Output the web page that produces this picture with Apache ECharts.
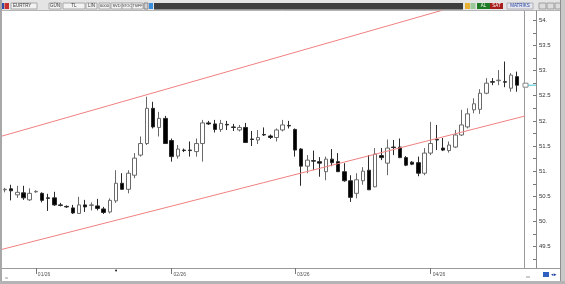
<!DOCTYPE html>
<html>
<head>
<meta charset="utf-8">
<script src="https://cdn.jsdelivr.net/npm/echarts@6/dist/echarts.min.js"></script>
<style>
html,body{margin:0;padding:0;background:#fff;}
#c{width:565px;height:284px;}
</style>
</head>
<body>
<div id="c"></div>
<script>
// ---- data ----
const dates = [
 '2025-12-25','2025-12-26','2025-12-29','2025-12-30','2025-12-31',
 '2026-01-01','2026-01-02','2026-01-05','2026-01-06','2026-01-07','2026-01-08','2026-01-09',
 '2026-01-12','2026-01-13','2026-01-14','2026-01-15','2026-01-16',
 '2026-01-19','2026-01-20','2026-01-21','2026-01-22','2026-01-23',
 '2026-01-26','2026-01-27','2026-01-28','2026-01-29','2026-01-30',
 '2026-02-02','2026-02-03','2026-02-04','2026-02-05','2026-02-06',
 '2026-02-09','2026-02-10','2026-02-11','2026-02-12','2026-02-13',
 '2026-02-16','2026-02-17','2026-02-18','2026-02-19','2026-02-20',
 '2026-02-23','2026-02-24','2026-02-25','2026-02-26','2026-02-27',
 '2026-03-02','2026-03-03','2026-03-04','2026-03-05','2026-03-06',
 '2026-03-09','2026-03-10','2026-03-11','2026-03-12','2026-03-13',
 '2026-03-16','2026-03-17','2026-03-18','2026-03-19','2026-03-20',
 '2026-03-23','2026-03-24','2026-03-25','2026-03-26','2026-03-27',
 '2026-03-30','2026-03-31',
 '2026-04-01','2026-04-02','2026-04-03',
 '2026-04-06','2026-04-07','2026-04-08','2026-04-09','2026-04-10',
 '2026-04-13','2026-04-14','2026-04-15','2026-04-16','2026-04-17',
 '2026-04-20','2026-04-21'
];
const opens = [
 50.63,50.65,50.53,50.57,50.43,50.59,50.56,50.47,50.47,50.33,50.30,50.27,50.16,50.33,50.32,50.31,50.25,50.19,50.41,50.76,
 50.64,50.92,51.32,51.55,52.25,51.87,52.05,51.61,51.30,51.42,51.42,51.39,51.55,51.96,51.94,51.83,51.93,51.88,51.82,51.87,
 51.64,51.62,51.73,51.70,51.67,51.82,51.91,51.83,51.44,51.10,51.21,51.19,50.99,51.24,51.19,50.99,50.81,50.56,50.81,51.02,
 50.69,51.31,51.16,51.48,51.48,51.27,51.18,51.17,50.96,51.36,51.63,51.46,51.41,51.48,51.72,51.88,52.22,52.23,52.55,52.78,
 52.80,52.78,52.65,52.88
];
const closes = [
 50.64,50.61,50.58,50.47,50.56,50.60,50.42,50.46,50.33,50.32,50.29,50.17,50.33,50.29,50.33,50.26,50.18,50.42,50.76,50.64,
 50.96,51.26,51.55,52.25,51.88,52.05,51.55,51.29,51.44,51.41,51.41,51.55,51.96,51.94,51.83,51.95,51.92,51.87,51.87,51.57,
 51.63,51.67,51.72,51.67,51.82,51.92,51.90,51.42,51.10,51.22,51.20,51.16,51.24,51.17,50.99,50.81,50.48,50.83,51.00,50.63,
 51.34,51.27,51.46,51.47,51.27,51.12,51.14,50.96,51.36,51.55,51.62,51.42,51.52,51.72,51.92,52.14,52.34,52.55,52.75,52.77,
 52.81,52.77,52.91,52.71
];
const lows = [
 50.58,50.42,50.47,50.43,50.41,50.57,50.38,50.21,50.31,50.30,50.27,50.15,50.16,50.19,50.22,50.22,50.15,50.16,50.37,50.63,
 50.56,50.86,51.29,51.52,51.85,51.69,51.55,51.19,51.25,51.38,51.29,51.29,51.19,51.92,51.77,51.78,51.82,51.80,51.79,51.57,
 51.50,51.54,51.70,51.64,51.59,51.79,51.85,51.29,50.71,50.96,51.02,50.89,50.82,51.10,50.99,50.79,50.39,50.46,50.73,50.63,
 50.68,51.22,50.92,51.32,51.26,51.10,51.12,50.90,50.92,51.32,51.42,51.40,51.37,51.46,51.70,51.85,52.15,52.14,52.53,52.71,
 52.71,52.67,52.58,52.58
];
const highs = [
 50.67,50.73,50.71,50.71,50.66,50.62,50.58,50.55,50.59,50.37,50.32,50.33,50.49,50.43,50.38,50.45,50.29,50.46,51.02,50.96,
 51.02,51.36,51.69,52.48,52.38,52.18,52.10,51.65,51.52,51.45,51.59,51.65,52.02,52.00,52.02,52.02,52.00,51.94,51.92,51.96,
 51.80,51.82,51.87,51.73,51.85,52.02,52.00,51.85,51.46,51.32,51.41,51.28,51.29,51.44,51.36,51.16,50.92,50.96,51.08,51.32,
 51.46,51.46,51.63,51.62,51.65,51.30,51.20,51.29,51.46,51.98,51.92,51.66,51.59,51.82,52.22,52.25,52.45,52.63,52.85,52.85,
 53.01,53.18,52.95,52.98
];
// trend channel anchors: [candle index, price]
const upperTrend = [[-1, 51.68], [80, 54.52]];
const lowerTrend = [[-1, 49.43], [85, 52.12]];
// price axis labels and ticks
const yLabelValues = [49.5, 50, 50.5, 51, 51.5, 52, 52.5, 53, 53.5, 54];
const yTickValues = [49.25, 49.5, 49.75, 50, 50.25, 50.5, 50.75, 51, 51.25, 51.5, 51.75, 52, 52.25, 52.5, 52.75, 53, 53.25, 53.5, 53.75, 54];
const symbolName = 'EURTRY';

// ---- layout ----
const CAT_W = 6.17, FIRST_X = 5;
const PLOT_LEFT = 3, PLOT_RIGHT = 524, PLOT_TOP = 11, PLOT_BOTTOM = 268;
const Y_AXIS_X = 536;
const Y54_PX = 20.3, PX_PER_UNIT = 50.3;
const yMax = 54 + (Y54_PX - PLOT_TOP) / PX_PER_UNIT;
const yMin = 54 - (PLOT_BOTTOM - Y54_PX) / PX_PER_UNIT;
const g0Left = FIRST_X - CAT_W / 2;
const g0Width = CAT_W * dates.length;

const monthStart = (idx) => idx > 0 && dates[idx].slice(5, 7) !== dates[idx - 1].slice(5, 7);

const chart = echarts.init(document.getElementById('c'), null, {renderer: 'canvas'});
const option = {
  animation: false,
  backgroundColor: '#ffffff',
  textStyle: {fontFamily: 'Liberation Sans, Arial, sans-serif'},
  grid: [
    {left: g0Left, top: PLOT_TOP, width: g0Width, height: PLOT_BOTTOM - PLOT_TOP},
    {left: PLOT_LEFT, top: PLOT_TOP, width: PLOT_RIGHT - PLOT_LEFT, height: PLOT_BOTTOM - PLOT_TOP}
  ],
  xAxis: [
    {
      type: 'category', gridIndex: 0, data: dates, boundaryGap: true,
      axisLine: {show: false},
      axisTick: {show: true, interval: (i) => monthStart(i), alignWithLabel: true, length: 6, lineStyle: {color: '#777', width: 1}},
      axisLabel: {
        interval: (i) => monthStart(i), fontSize: 5, color: '#555', align: 'left', margin: 4, padding: [0, 0, 0, 2],
        formatter: (v) => v.slice(5, 7) + '/' + v.slice(2, 4)
      },
      splitLine: {show: false}
    },
    {
      type: 'value', gridIndex: 1, show: false,
      min: (PLOT_LEFT - FIRST_X) / CAT_W, max: (PLOT_RIGHT - FIRST_X) / CAT_W
    }
  ],
  yAxis: [
    {
      type: 'value', gridIndex: 0, position: 'right', offset: Y_AXIS_X - (g0Left + g0Width),
      min: yMin, max: yMax, scale: true,
      axisLine: {show: true, lineStyle: {color: '#8a8a8a', width: 1}},
      axisTick: {show: true, inside: true, length: 3, customValues: yTickValues, lineStyle: {color: '#777'}},
      axisLabel: {
        customValues: yLabelValues, fontSize: 6, color: '#333', margin: 3,
        formatter: (v) => (Math.abs(v - Math.round(v)) < 1e-9 ? Math.round(v) + '.' : v.toFixed(1))
      },
      splitLine: {show: false}
    },
    {type: 'value', gridIndex: 1, show: false, min: yMin, max: yMax, scale: true}
  ],
  series: [
    {
      type: 'candlestick', xAxisIndex: 0, yAxisIndex: 0, barWidth: 4,
      data: dates.map((d, i) => [opens[i], closes[i], lows[i], highs[i]]),
      itemStyle: {color: '#ffffff', color0: '#000000', borderColor: '#6a6a6a', borderColor0: '#2a2a2a', borderWidth: 1}
    },
    {
      type: 'line', xAxisIndex: 1, yAxisIndex: 1, data: upperTrend, symbol: 'none', clip: true,
      lineStyle: {color: '#f08080', width: 1}, silent: true
    },
    {
      type: 'line', xAxisIndex: 1, yAxisIndex: 1, data: lowerTrend, symbol: 'none', clip: true,
      lineStyle: {color: '#f08080', width: 1}, silent: true
    }
  ]
};
chart.setOption(option);

// ---- chrome (window frame, toolbar, markers) ----
const last = closes[closes.length - 1];
const lastY = chart.convertToPixel({yAxisIndex: 0}, last);
const evX = chart.convertToPixel({xAxisIndex: 0}, 18);

function box(x, y, w, h, fill, stroke) {
  return {type: 'rect', shape: {x: x, y: y, width: w, height: h}, style: {fill: fill, stroke: stroke || null, lineWidth: 1}, silent: true};
}
function txt(x, y, t, color, size, align) {
  return {type: 'text', x: x, y: y, style: {text: t, fill: color, font: (size || 5) + 'px Liberation Sans', textAlign: align || 'left', textVerticalAlign: 'middle'}, silent: true};
}
function line(x1, y1, x2, y2, color, w) {
  return {type: 'line', shape: {x1: x1, y1: y1, x2: x2, y2: y2}, style: {stroke: color, lineWidth: w || 1}, silent: true};
}

const g = [];
// toolbar band
g.push(box(0, 0, 565, 10.5, '#e4e4e4'));
g.push(line(0, 10.5, 565, 10.5, '#b4b4b4'));
g.push(box(1, 3, 3, 6, '#2c4fa8'));
g.push(box(4.5, 3, 4.5, 6, '#c83030'));
g.push(box(11, 3, 26, 6, '#f2f2f2', '#a8a8a8'));
g.push(txt(13, 6, symbolName, '#333', 4.5));
g.push(box(49, 3, 12, 6, '#f2f2f2', '#a8a8a8'));
g.push(txt(55, 6, 'GÜN', '#333', 4.5, 'center'));
g.push(box(63, 3, 22, 6, '#f2f2f2', '#a8a8a8'));
g.push(txt(74, 6, 'TL', '#333', 4.5, 'center'));
g.push(box(86, 3, 11, 6, '#f2f2f2', '#a8a8a8'));
g.push(txt(91.5, 6, 'LIN', '#333', 4.5, 'center'));
g.push(box(99, 3, 11, 6, '#f2f2f2', '#a8a8a8'));
g.push(txt(104.5, 6, '6000', '#333', 4, 'center'));
g.push(box(111, 3, 11, 6, '#f2f2f2', '#a8a8a8'));
g.push(txt(116.5, 6, 'SVD', '#333', 4, 'center'));
g.push(box(122, 3, 10, 6, '#f2f2f2', '#a8a8a8'));
g.push(txt(127, 6, 'STOC', '#333', 3.5, 'center'));
g.push(box(132, 3, 11, 6, '#f2f2f2', '#a8a8a8'));
g.push(txt(137.5, 6, 'TSIFF', '#333', 3.5, 'center'));
g.push(box(144, 3, 4, 6, '#d0d0d0', '#888'));
g.push(box(149, 3, 4, 6, '#3a8ee0'));
g.push(box(154, 3, 309, 6.5, '#3e3e3e'));
g.push(box(465, 3, 5, 6, '#e8b030'));
g.push(box(470.5, 3, 5, 6, '#9ac89a'));
g.push(box(477, 3, 13, 6, '#1e7a24'));
g.push(txt(483.5, 6, 'AL', '#ffffff', 4.5, 'center'));
g.push(box(490, 3, 13, 6, '#a81c1c'));
g.push(txt(496.5, 6, 'SAT', '#ffffff', 4.5, 'center'));
g.push(box(507, 3, 26, 6, '#e6e6ee', '#b0b0b8'));
g.push(txt(520, 6, 'MATRİKS', '#2040a0', 4.5, 'center'));
g.push(box(539, 3, 7, 6, '#dcdcdc', '#a0a0a0'));
g.push(box(547, 3, 7, 6, '#dcdcdc', '#a0a0a0'));
g.push(box(555, 3, 7, 6, '#dcdcdc', '#a0a0a0'));
// plot frame lines
g.push(line(PLOT_RIGHT + 0.5, PLOT_TOP, PLOT_RIGHT + 0.5, PLOT_BOTTOM, '#9a9a9a'));
g.push(line(2, PLOT_BOTTOM + 0.5, 560, PLOT_BOTTOM + 0.5, '#9a9a9a'));
// window frame
g.push(box(0, 0, 2, 284, '#a8a8a8'));
g.push(box(560, 0, 5, 284, '#c8c8c8'));
g.push(line(560.5, 0, 560.5, 284, '#8e8e8e'));
g.push(box(0, 281, 565, 3, '#b4b4b4'));
// bottom small icons
g.push(txt(5, 277.5, 'ııı', '#777', 4));
g.push(txt(526, 277, 'ıııı', '#777', 4));
g.push(box(543, 272, 6, 5, '#3060c0'));
g.push(txt(554, 274.5, '◂▸', '#2040a0', 5, 'center'));
// last price marker
g.push(box(PLOT_RIGHT - 1, lastY - 2, 5, 4, '#ffffff', '#888'));
g.push(line(PLOT_RIGHT + 4, lastY, Y_AXIS_X, lastY, '#40c8d0'));
// event marker
g.push({type: 'circle', shape: {cx: evX, cy: 270.5, r: 1}, style: {fill: '#222'}, silent: true});

chart.setOption({graphic: g});
</script>
</body>
</html>
